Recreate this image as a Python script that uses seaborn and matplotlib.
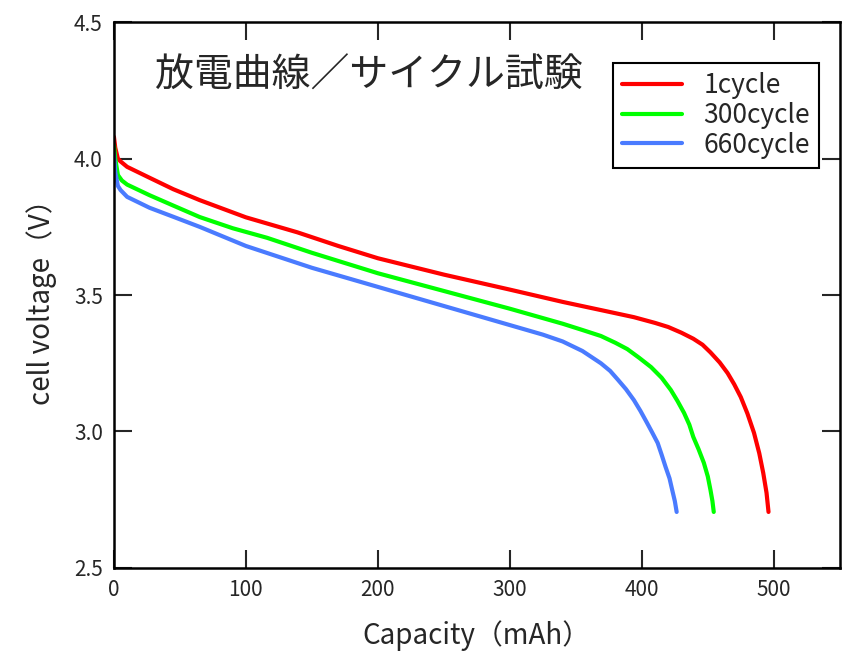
import pandas as pd
import matplotlib
matplotlib.use("Agg")
import matplotlib.pyplot as plt
import seaborn as sns

# --- data ---
cap_1 = [0, 1, 3, 5, 10, 27, 45, 65, 100, 139, 170, 200, 250, 300, 340, 369,
         394, 410, 420, 430, 439, 446, 452, 459, 465, 470, 475, 480, 485, 489,
         492, 494.5, 496]
volt_1 = [4.08, 4.04, 4.00, 3.99, 3.97, 3.93, 3.888, 3.848, 3.785, 3.73, 3.68,
          3.635, 3.575, 3.52, 3.475, 3.445, 3.419, 3.398, 3.383, 3.362, 3.340,
          3.318, 3.290, 3.253, 3.214, 3.173, 3.126, 3.066, 2.995, 2.92, 2.848,
          2.775, 2.705]

cap_300 = [0, 1, 3, 6, 10, 27, 45, 65, 90, 116, 150, 200, 250, 300, 340, 355,
           369, 380, 389, 398, 407, 415, 422, 427, 432, 436, 439, 443, 447,
           450, 452, 453.5, 454.5]
volt_300 = [4.05, 4.00, 3.94, 3.92, 3.905, 3.866, 3.828, 3.786, 3.745, 3.71,
            3.655, 3.58, 3.515, 3.45, 3.395, 3.372, 3.35, 3.325, 3.302, 3.27,
            3.236, 3.197, 3.152, 3.112, 3.068, 3.025, 2.98, 2.935, 2.885,
            2.835, 2.786, 2.745, 2.705]

cap_660 = [0, 1, 3, 5, 10, 27, 45, 65, 100, 150, 200, 250, 300, 325, 340, 355,
           369, 376, 382, 388, 394, 399, 404, 408, 412, 415, 418, 421, 423,
           425, 426.4]
volt_660 = [4.02, 3.95, 3.90, 3.885, 3.86, 3.82, 3.787, 3.75, 3.68, 3.60, 3.53,
            3.46, 3.39, 3.355, 3.33, 3.295, 3.25, 3.222, 3.189, 3.155, 3.115,
            3.075, 3.031, 2.995, 2.958, 2.915, 2.87, 2.828, 2.786, 2.745, 2.705]

labels = ["1cycle", "300cycle", "660cycle"]
colors = ["#ff0000", "#00ff00", "#4a7bff"]

x_ticks = [0, 100, 200, 300, 400, 500]
y_ticks = [2.5, 3.0, 3.5, 4.0, 4.5]

df = pd.concat([
    pd.DataFrame({"cap": cap_1, "volt": volt_1, "series": labels[0]}),
    pd.DataFrame({"cap": cap_300, "volt": volt_300, "series": labels[1]}),
    pd.DataFrame({"cap": cap_660, "volt": volt_660, "series": labels[2]}),
], ignore_index=True)

sns.set_theme(style="ticks")
plt.rcParams["font.family"] = ["Noto Sans CJK JP", "DejaVu Sans"]

fig = plt.figure(figsize=(8.44, 6.55), dpi=100)
ax = fig.add_axes([0.135, 0.133, 0.86, 0.833])

sns.lineplot(data=df, x="cap", y="volt", hue="series", palette=colors,
             hue_order=labels, linewidth=3, sort=False, estimator=None, ax=ax)

ax.set_xlim(0, 550)
ax.set_ylim(2.5, 4.5)
ax.set_xticks(x_ticks)
ax.set_yticks(y_ticks)
ax.set_yticklabels([f"{v:.1f}" for v in y_ticks])
ax.tick_params(direction="in", length=13, width=1.5, labelsize=15,
               top=True, right=True, pad=8)
for s in ax.spines.values():
    s.set_linewidth(1.8)
    s.set_color("black")

ax.set_xlabel("Capacity（mAh）", fontsize=20, labelpad=14)
ax.set_ylabel("cell voltage（V）", fontsize=20, labelpad=12)

ax.text(0.056, 0.903, "放電曲線／サイクル試験", transform=ax.transAxes,
        fontsize=28, va="center", ha="left")

leg = ax.legend(loc="upper right", bbox_to_anchor=(0.972, 0.925),
                borderaxespad=0, fontsize=19, frameon=True, fancybox=False,
                handlelength=2.3, handletextpad=0.8, labelspacing=0.1,
                borderpad=0.35)
leg.get_frame().set_edgecolor("black")
leg.get_frame().set_linewidth(1.5)
leg.get_frame().set_alpha(1)

fig.savefig("out.png", dpi=100)
